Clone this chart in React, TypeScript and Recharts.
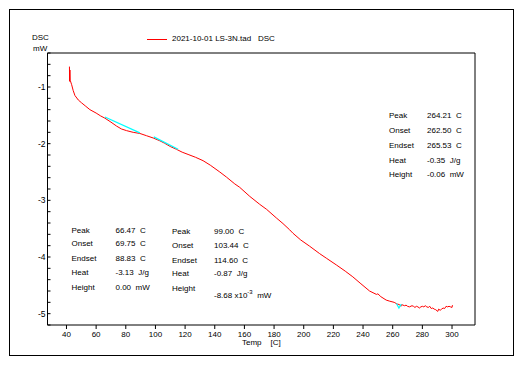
import { LineChart, Line, XAxis, YAxis, ReferenceLine } from "recharts";

const FONT = "'Liberation Sans', Arial, sans-serif";

// DSC curve: [temp C, mW]
const dscCurve: [number, number][] = [
  [42.0, -0.64], [42.1, -0.9], [42.3, -0.7], [42.5, -0.88], [43.5, -0.96],
  [44.5, -1.06], [45.7, -1.15], [48, -1.23], [50.2, -1.28], [53, -1.34],
  [55.8, -1.4], [60, -1.46], [63, -1.51], [65.9, -1.55], [70, -1.62],
  [73.8, -1.69], [77, -1.74], [80.5, -1.77], [85, -1.8], [89.5, -1.82],
  [94, -1.86], [98.5, -1.9], [103, -1.95], [106, -1.99], [110, -2.05],
  [114.2, -2.1], [118, -2.15], [122, -2.19], [127, -2.24], [132.1, -2.3],
  [137, -2.38], [143.4, -2.5], [147.9, -2.59], [153.5, -2.71], [156.8, -2.77],
  [163.6, -2.93], [170.3, -3.07], [175, -3.16], [181.5, -3.31], [186, -3.41],
  [190.5, -3.52], [192.7, -3.58], [198, -3.7], [204, -3.81], [210.7, -3.94],
  [215.2, -4.02], [222, -4.14], [228, -4.25], [233.1, -4.35], [238, -4.46],
  [244.4, -4.6], [249, -4.66], [250, -4.65], [252, -4.7], [255.6, -4.76],
  [258, -4.78], [261, -4.8], [263, -4.83], [264.6, -4.84], [265.5, -4.87],
  [266, -4.84], [268, -4.86], [269, -4.85], [270, -4.87], [271.3, -4.88],
  [273, -4.86], [274, -4.87], [275, -4.89], [276, -4.87], [277, -4.88],
  [278, -4.9], [279, -4.88], [280, -4.87], [281, -4.88], [282, -4.86],
  [283, -4.88], [284, -4.89], [285, -4.87], [286, -4.91], [287, -4.9],
  [288, -4.92], [289, -4.93], [290.4, -4.96], [291, -4.92], [292, -4.94],
  [293, -4.92], [294, -4.9], [295, -4.91], [296, -4.87], [297, -4.88],
  [298, -4.87], [299, -4.88], [300, -4.89], [300.3, -4.85],
];

// cyan baselines of the evaluated peaks
const baseline1: [number, number][] = [[65.9, -1.53], [89.5, -1.81]];
const baseline2: [number, number][] = [[98.9, -1.88], [115.3, -2.1]];
const baseline3: [number, number][] = [[262.5, -4.82], [264.2, -4.9], [265.8, -4.83]];

const xTicks = [40, 60, 80, 100, 120, 140, 160, 180, 200, 220, 240, 260, 280, 300];
const yTicks = [
  -5.2, -5, -4.8, -4.6, -4.4, -4.2, -4, -3.8, -3.6, -3.4, -3.2, -3, -2.8, -2.6,
  -2.4, -2.2, -2, -1.8, -1.6, -1.4, -1.2, -1, -0.8, -0.6, -0.4,
];

const peakLabels = ["Peak", "Onset", "Endset", "Heat", "Height"];
const peak1 = ["66.47  C", "69.75  C", "88.83  C", "-3.13  J/g", "0.00  mW"];
const peak2 = ["99.00  C", "103.44  C", "114.60  C", "-0.87  J/g", "-8.68 x10"];
const peak3 = ["264.21  C", "262.50  C", "265.53  C", "-0.35  J/g", "-0.06  mW"];

const toRows = (pts: [number, number][]) => pts.map(([t, v]) => ({ t, v }));

function YTick(props: any) {
  const { x, y, payload } = props;
  const major = Number.isInteger(payload.value);
  return (
    <g>
      <line x1={x} x2={x + 3} y1={y} y2={y} stroke="#000" />
      {major && (
        <text x={x - 2} y={y} dy="0.35em" textAnchor="end" fontSize={8.5} fill="#000" fontFamily={FONT}>
          {payload.value}
        </text>
      )}
    </g>
  );
}

function Block({ left, valueLeft, tops, values, sup }: { left: number; valueLeft: number; tops: number[]; values: string[]; sup?: boolean }) {
  return (
    <>
      {peakLabels.map((l, i) => (
        <div key={l} style={{ position: "absolute", left, top: tops[i] - 5, fontSize: 8, lineHeight: "10px" }}>
          {l}
        </div>
      ))}
      {values.map((v, i) => (
        <div
          key={i}
          style={{ position: "absolute", left: valueLeft, top: tops[i] - 5 + (sup && i === 4 ? 3 : 0), fontSize: 8, lineHeight: "10px", whiteSpace: "pre" }}
        >
          {v}
          {sup && i === 4 && (
            <>
              <sup style={{ fontSize: 6 }}>-3</sup>
              {"  mW"}
            </>
          )}
        </div>
      ))}
    </>
  );
}

export default function App() {
  return (
    <div style={{ position: "absolute", left: 0, top: 0, width: 525, height: 365, background: "#fff", fontFamily: FONT, color: "#000" }}>
      <div style={{ position: "absolute", left: 9, top: 9, width: 505, height: 347, border: "1px solid #000", boxSizing: "border-box" }} />
      <LineChart width={525} height={365} margin={{ top: 53, right: 50, bottom: 10, left: 17.5 }}>
        <XAxis
          type="number"
          dataKey="t"
          domain={[27.2, 315.5]}
          ticks={xTicks}
          interval={0}
          allowDataOverflow
          height={30}
          tickSize={4}
          tickMargin={2}
          stroke="#000"
          tick={{ fontSize: 8, fill: "#000", fontFamily: FONT }}
        />
        <YAxis
          type="number"
          domain={[-5.2, -0.4]}
          ticks={yTicks}
          interval={0}
          allowDataOverflow
          width={30}
          tickSize={0}
          tickMargin={0}
          tickLine={false}
          stroke="#000"
          tick={<YTick />}
        />
        <ReferenceLine y={-0.4} stroke="#000" />
        <ReferenceLine x={315.5} stroke="#000" />
        <Line data={toRows(dscCurve)} dataKey="v" stroke="#ff0000" strokeWidth={1} dot={false} isAnimationActive={false} />
        <Line data={toRows(baseline1)} dataKey="v" stroke="#00ffff" strokeWidth={1.2} dot={false} isAnimationActive={false} />
        <Line data={toRows(baseline2)} dataKey="v" stroke="#00ffff" strokeWidth={1.2} dot={false} isAnimationActive={false} />
        <Line data={toRows(baseline3)} dataKey="v" stroke="#00ffff" strokeWidth={1.2} dot={false} isAnimationActive={false} />
      </LineChart>

      {/* legend */}
      <div style={{ position: "absolute", left: 147, top: 38.5, width: 20, borderTop: "1px solid #ff0000" }} />
      <div style={{ position: "absolute", left: 172, top: 34, fontSize: 8, lineHeight: "10px" }}>2021-10-01 LS-3N.tad</div>
      <div style={{ position: "absolute", left: 258, top: 34, fontSize: 8, lineHeight: "10px" }}>DSC</div>

      {/* axis titles */}
      <div style={{ position: "absolute", left: 32, top: 33, fontSize: 8, lineHeight: "10px" }}>DSC</div>
      <div style={{ position: "absolute", left: 33, top: 44, fontSize: 8, lineHeight: "10px" }}>mW</div>
      <div style={{ position: "absolute", left: 242, top: 338, fontSize: 8, lineHeight: "10px", whiteSpace: "pre" }}>{"Temp    [C]"}</div>

      <Block left={71.5} valueLeft={115.5} tops={[230.7, 244.3, 259.3, 273.3, 287.7]} values={peak1} />
      <Block left={172} valueLeft={214} tops={[231.7, 245.7, 260.7, 274.3, 289.3]} values={peak2} sup />
      <Block left={389} valueLeft={427} tops={[115.7, 130.7, 146, 160.7, 174.7]} values={peak3} />
    </div>
  );
}
